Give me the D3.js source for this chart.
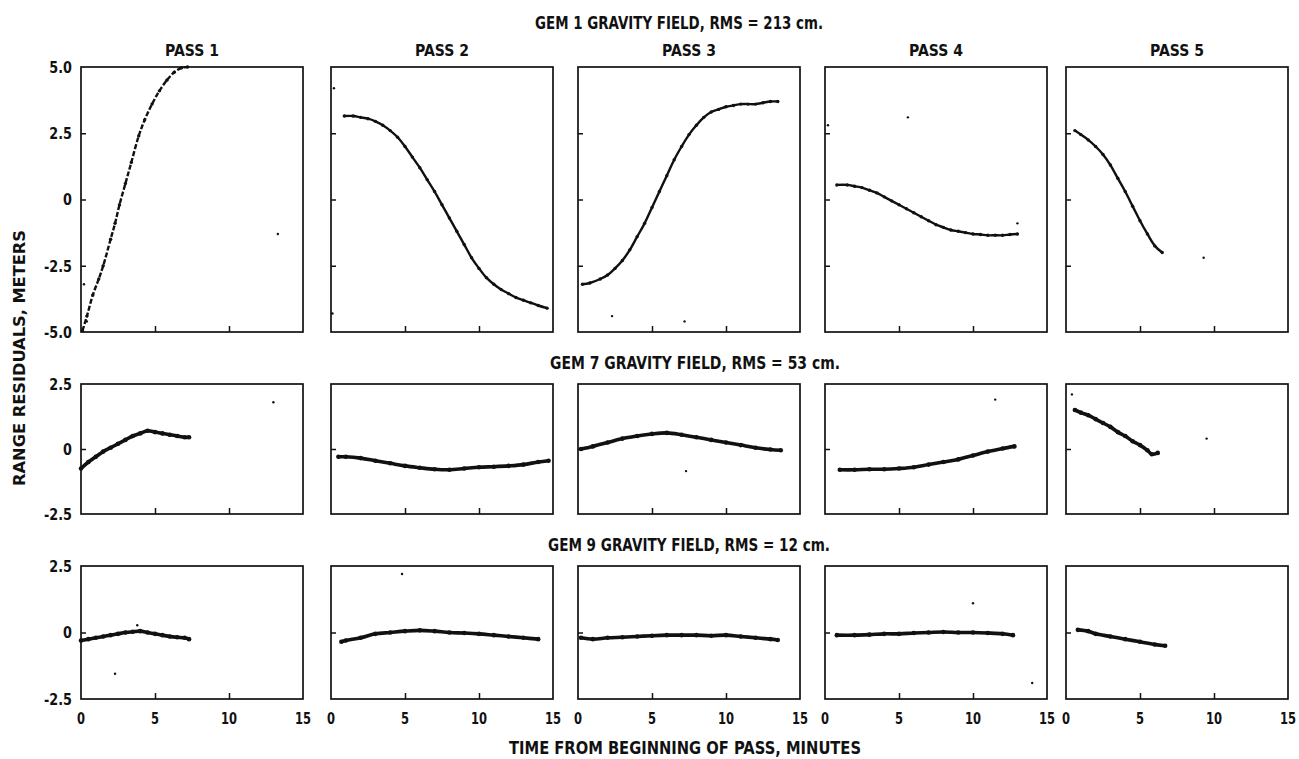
<!DOCTYPE html>
<html>
<head>
<meta charset="utf-8">
<script src="https://cdn.jsdelivr.net/npm/d3@7/dist/d3.min.js"></script>
<style>
  html, body { margin: 0; padding: 0; background: #fff; }
  svg { display: block; }
  text { font-family: "DejaVu Sans", "Liberation Sans", sans-serif; font-weight: bold; fill: #111; }
</style>
</head>
<body>
<svg id="chart" width="1299" height="759"></svg>
<script>
// ---------------- DATA ----------------
const passNames = ["PASS 1", "PASS 2", "PASS 3", "PASS 4", "PASS 5"];
const fieldTitles = [
  "GEM 1 GRAVITY FIELD, RMS = 213 cm.",
  "GEM 7 GRAVITY FIELD, RMS = 53 cm.",
  "GEM 9 GRAVITY FIELD, RMS = 12 cm."
];
const yDomains = [[-5, 5], [-2.5, 2.5], [-2.5, 2.5]];
const yTickValues = [[5, 2.5, 0, -2.5, -5], [2.5, 0, -2.5], [2.5, 0, -2.5]];
const yTickLabels = [["5.0", "2.5", "0", "-2.5", "-5.0"], ["2.5", "0", "-2.5"], ["2.5", "0", "-2.5"]];
const xTickValues = [0, 5, 10, 15];
const xInnerTicks = [5, 10];
const yTitle = "RANGE RESIDUALS, METERS";
const xTitle = "TIME FROM BEGINNING OF PASS, MINUTES";

// GEM 1 residuals (minutes, meters)
const gem1Pass1 = [[0.1,-4.95],[0.4,-4.4],[0.8,-3.6],[1.2,-3.0],[1.5,-2.5],[2.0,-1.5],[2.3,-0.9],[2.6,-0.2],[3.0,0.6],[3.4,1.4],[3.9,2.4],[4.3,3.0],[4.8,3.6],[5.3,4.1],[5.8,4.5],[6.3,4.8],[6.8,4.97],[7.2,5.0]];
const gem1Pass2 = [[0.9,3.15],[1.5,3.15],[2.0,3.1],[2.5,3.05],[3.0,2.95],[3.5,2.8],[4.0,2.6],[4.5,2.35],[5.0,2.0],[5.5,1.6],[6.0,1.2],[6.5,0.75],[7.0,0.3],[7.5,-0.2],[8.0,-0.7],[8.5,-1.2],[9.0,-1.7],[9.5,-2.2],[10.0,-2.6],[10.5,-2.95],[11.0,-3.2],[11.5,-3.4],[12.0,-3.55],[12.5,-3.7],[13.0,-3.8],[13.5,-3.9],[14.0,-4.0],[14.6,-4.1]];
const gem1Pass3 = [[0.3,-3.2],[0.8,-3.15],[1.5,-3.0],[2.0,-2.85],[2.5,-2.6],[3.0,-2.3],[3.5,-1.9],[4.0,-1.4],[4.5,-0.9],[5.0,-0.3],[5.5,0.3],[6.0,0.9],[6.5,1.5],[7.0,2.0],[7.5,2.45],[8.0,2.8],[8.5,3.1],[9.0,3.3],[9.5,3.4],[10.0,3.5],[10.5,3.55],[11.0,3.6],[11.5,3.6],[12.0,3.6],[12.5,3.65],[13.0,3.7],[13.5,3.7]];
const gem1Pass4 = [[0.8,0.55],[1.5,0.55],[2.0,0.5],[2.5,0.45],[3.0,0.35],[3.5,0.25],[4.0,0.1],[4.5,-0.05],[5.0,-0.2],[5.5,-0.35],[6.0,-0.5],[6.5,-0.65],[7.0,-0.8],[7.5,-0.95],[8.0,-1.05],[8.5,-1.15],[9.0,-1.2],[9.5,-1.25],[10.0,-1.3],[10.5,-1.32],[11.0,-1.35],[11.5,-1.35],[12.0,-1.35],[12.5,-1.32],[13.0,-1.3]];
const gem1Pass5 = [[0.6,2.6],[1.0,2.45],[1.5,2.25],[2.0,2.0],[2.5,1.7],[3.0,1.3],[3.5,0.8],[4.0,0.3],[4.5,-0.25],[5.0,-0.8],[5.5,-1.3],[6.0,-1.75],[6.5,-2.0]];
// GEM 7 residuals
const gem7Pass1 = [[0.0,-0.75],[0.5,-0.5],[1.0,-0.3],[1.5,-0.1],[2.0,0.05],[2.5,0.2],[3.0,0.35],[3.5,0.5],[4.0,0.6],[4.5,0.7],[5.0,0.65],[5.5,0.6],[6.0,0.55],[6.5,0.5],[7.0,0.45],[7.3,0.45]];
const gem7Pass2 = [[0.5,-0.3],[1.0,-0.3],[2.0,-0.35],[3.0,-0.45],[4.0,-0.55],[5.0,-0.65],[6.0,-0.72],[7.0,-0.78],[8.0,-0.8],[9.0,-0.75],[10.0,-0.7],[11.0,-0.68],[12.0,-0.65],[13.0,-0.6],[14.0,-0.5],[14.7,-0.45]];
const gem7Pass3 = [[0.2,0.0],[1.0,0.1],[2.0,0.25],[3.0,0.4],[4.0,0.5],[5.0,0.58],[6.0,0.62],[7.0,0.55],[8.0,0.45],[9.0,0.35],[10.0,0.25],[11.0,0.15],[12.0,0.05],[13.0,-0.02],[13.7,-0.05]];
const gem7Pass4 = [[1.0,-0.8],[2.0,-0.8],[3.0,-0.78],[4.0,-0.78],[5.0,-0.75],[6.0,-0.7],[7.0,-0.6],[8.0,-0.5],[9.0,-0.4],[10.0,-0.25],[11.0,-0.1],[12.0,0.02],[12.8,0.1]];
const gem7Pass5 = [[0.6,1.5],[1.0,1.4],[1.5,1.3],[2.0,1.15],[2.5,1.0],[3.0,0.85],[3.5,0.65],[4.0,0.5],[4.5,0.3],[5.0,0.15],[5.5,-0.05],[5.8,-0.2],[6.2,-0.15]];
// GEM 9 residuals
const gem9Pass1 = [[0.0,-0.3],[0.5,-0.25],[1.0,-0.2],[1.5,-0.15],[2.0,-0.1],[2.5,-0.05],[3.0,0.0],[3.5,0.03],[4.0,0.05],[4.5,0.0],[5.0,-0.05],[5.5,-0.1],[6.0,-0.15],[6.5,-0.18],[7.0,-0.2],[7.3,-0.25]];
const gem9Pass2 = [[0.7,-0.35],[1.0,-0.3],[2.0,-0.2],[3.0,-0.05],[4.0,0.0],[5.0,0.05],[6.0,0.08],[7.0,0.05],[8.0,0.0],[9.0,-0.02],[10.0,-0.05],[11.0,-0.1],[12.0,-0.15],[13.0,-0.2],[14.0,-0.25]];
const gem9Pass3 = [[0.2,-0.2],[1.0,-0.25],[2.0,-0.2],[3.0,-0.18],[4.0,-0.15],[5.0,-0.12],[6.0,-0.1],[7.0,-0.1],[8.0,-0.1],[9.0,-0.12],[10.0,-0.1],[11.0,-0.15],[12.0,-0.2],[13.0,-0.25],[13.5,-0.28]];
const gem9Pass4 = [[0.8,-0.1],[2.0,-0.1],[3.0,-0.08],[4.0,-0.05],[5.0,-0.05],[6.0,-0.02],[7.0,0.0],[8.0,0.02],[9.0,0.0],[10.0,0.0],[11.0,-0.02],[12.0,-0.05],[12.7,-0.1]];
const gem9Pass5 = [[0.8,0.1],[1.5,0.05],[2.0,-0.05],[3.0,-0.15],[4.0,-0.25],[5.0,-0.35],[6.0,-0.45],[6.7,-0.5]];

// isolated outlier points per panel
const gem1Outliers = [[[0.2,-3.2],[13.3,-1.3],[0.4,-4.6]], [[0.2,4.2],[0.1,-4.3]], [[7.2,-4.6],[2.3,-4.4]], [[0.2,2.8],[5.6,3.1],[13.0,-0.9]], [[9.3,-2.2]]];
const gem7Outliers = [[[13.0,1.8]], [], [[7.3,-0.85]], [[11.5,1.9]], [[0.4,2.1],[9.5,0.4]]];
const gem9Outliers = [[[2.3,-1.55],[3.8,0.27]], [[4.8,2.2]], [], [[10.0,1.1],[14.0,-1.9]], []];

const seriesRows = [
  [gem1Pass1, gem1Pass2, gem1Pass3, gem1Pass4, gem1Pass5],
  [gem7Pass1, gem7Pass2, gem7Pass3, gem7Pass4, gem7Pass5],
  [gem9Pass1, gem9Pass2, gem9Pass3, gem9Pass4, gem9Pass5]
];
const outlierRows = [gem1Outliers, gem7Outliers, gem9Outliers];

// ---------------- LAYOUT ----------------
const colLeft = [81, 331, 578, 825, 1066];
const panelW = 222;
const rowTop = [67, 384, 566];
const rowBottom = [332, 514, 699];
const ink = "#111";

const svg = d3.select("#chart");

// field titles
const titleY = [29, 369, 551];
const titleX = [679, 695, 689];
const titleW = [288, 290, 282];
fieldTitles.forEach((t, r) => {
  svg.append("text").attr("x", titleX[r]).attr("y", titleY[r])
    .attr("text-anchor", "middle").attr("font-size", 17)
    .attr("textLength", titleW[r]).attr("lengthAdjust", "spacingAndGlyphs").text(t);
});

// pass titles
passNames.forEach((p, c) => {
  svg.append("text").attr("x", colLeft[c] + panelW / 2).attr("y", 56)
    .attr("text-anchor", "middle").attr("font-size", 16)
    .attr("textLength", 54).attr("lengthAdjust", "spacingAndGlyphs").text(p);
});

// y title
svg.append("text").attr("transform", "translate(25,358) rotate(-90)")
  .attr("text-anchor", "middle").attr("font-size", 16)
  .attr("textLength", 256).attr("lengthAdjust", "spacingAndGlyphs").text(yTitle);

// x title
svg.append("text").attr("x", 685).attr("y", 754)
  .attr("text-anchor", "middle").attr("font-size", 17)
  .attr("textLength", 352).attr("lengthAdjust", "spacingAndGlyphs").text(xTitle);

seriesRows.forEach((row, r) => {
  const y = d3.scaleLinear().domain(yDomains[r]).range([rowBottom[r], rowTop[r]]);
  row.forEach((data, c) => {
    const x = d3.scaleLinear().domain([0, 15]).range([colLeft[c], colLeft[c] + panelW]);
    const g = svg.append("g");

    // frame
    g.append("rect").attr("x", x(0)).attr("y", y(yDomains[r][1]))
      .attr("width", x(15) - x(0)).attr("height", y(yDomains[r][0]) - y(yDomains[r][1]))
      .attr("fill", "none").attr("stroke", ink).attr("stroke-width", 1.7);

    // inward ticks, left
    const leftAxis = d3.axisRight(y).tickValues(yTickValues[r].slice(1, -1)).tickSize(5).tickFormat("");
    g.append("g").attr("transform", `translate(${x(0)},0)`).call(leftAxis)
      .call(s => s.select(".domain").remove())
      .selectAll("line").attr("stroke", ink).attr("stroke-width", 1.5);

    // inward ticks, bottom
    const botAxis = d3.axisTop(x).tickValues(xInnerTicks).tickSize(6).tickFormat("");
    g.append("g").attr("transform", `translate(0,${y(yDomains[r][0])})`).call(botAxis)
      .call(s => s.select(".domain").remove())
      .selectAll("line").attr("stroke", ink).attr("stroke-width", 1.5);

    // y tick labels for first column (condensed via horizontal scale)
    if (c === 0) {
      yTickValues[r].forEach((v, i) => {
        svg.append("text")
          .attr("transform", `translate(72,${y(v)}) scale(0.8,1)`)
          .attr("dy", "0.36em").attr("text-anchor", "end").attr("font-size", 16)
          .text(yTickLabels[r][i]);
      });
    }
    // x tick labels for last row
    if (r === 2) {
      xTickValues.forEach(v => {
        svg.append("text")
          .attr("transform", `translate(${x(v)},724) scale(0.72,1)`)
          .attr("text-anchor", "middle").attr("font-size", 16).text(v);
      });
    }

    // residual band
    const line = d3.line().x(d => x(d[0])).y(d => y(d[1])).curve(d3.curveCatmullRom);
    g.append("path").datum(data).attr("d", line)
      .attr("fill", "none").attr("stroke", ink)
      .attr("stroke-width", r === 0 ? 2.4 : 3.6)
      .attr("stroke-dasharray", r === 0 && c === 0 ? "5,2" : null);
    g.selectAll("circle.pt").data(data).join("circle").attr("class", "pt")
      .attr("cx", d => x(d[0])).attr("cy", d => y(d[1]))
      .attr("r", r === 0 ? 1.7 : 2.3).attr("fill", ink);

    // outliers
    g.selectAll("circle.out").data(outlierRows[r][c]).join("circle").attr("class", "out")
      .attr("cx", d => x(d[0])).attr("cy", d => y(d[1])).attr("r", 1.2).attr("fill", ink);
  });
});
</script>
</body>
</html>
